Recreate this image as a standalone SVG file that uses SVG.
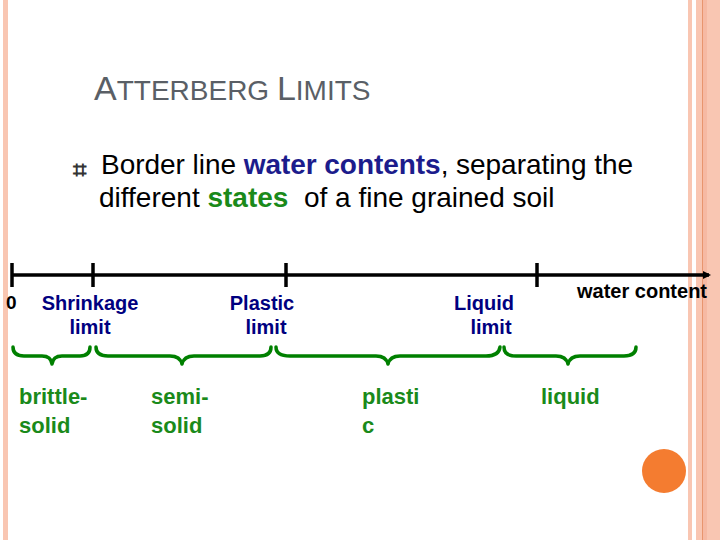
<svg xmlns="http://www.w3.org/2000/svg" width="720" height="540" viewBox="0 0 720 540">
<style>
.pb{fill:#f9c6b2}
.t{font-family:"Liberation Sans",Arial,sans-serif}
.lab{font-family:"Liberation Sans",Arial,sans-serif;font-weight:bold;font-size:20px;fill:#000080;text-anchor:middle}
.st{font-family:"Liberation Sans",Arial,sans-serif;font-weight:bold;font-size:22px;fill:#1a8a1a}
.br{fill:none;stroke:#008000;stroke-width:3.5;stroke-linecap:round;stroke-linejoin:round}
.tk{stroke:#000;stroke-width:3.5}
</style>
<rect width="720" height="540" fill="#fff"/>
<rect class="pb" x="3" y="0" width="5" height="540"/>
<rect class="pb" x="688" y="0" width="4" height="540"/>
<rect class="pb" x="696" y="0" width="24" height="540"/>
<rect x="702" y="0" width="1" height="540" fill="#e8956e"/>
<rect x="703" y="0" width="4" height="540" fill="#f6b9a3"/>
<text class="t" x="94" y="100" font-size="34" fill="#5a5f66">A<tspan font-size="28">TTERBERG </tspan>L<tspan font-size="28">IMITS</tspan></text>
<g id="bullet"><text class="t" x="73" y="178" font-size="24" font-weight="bold" fill="#333">⌗</text></g>
<text class="t" x="101" y="174" font-size="28" fill="#000" textLength="532">Border line <tspan fill="#1c1c8c" font-weight="bold">water contents</tspan>, separating the</text>
<text class="t" x="99" y="207" font-size="28" fill="#000">different <tspan fill="#1a8a1a" font-weight="bold">states</tspan>&#160; of a fine grained soil</text>
<defs><marker id="ah" markerWidth="8" markerHeight="8" refX="6" refY="4" orient="auto" markerUnits="userSpaceOnUse"><path d="M0,0 L8,4 L0,8 z" fill="#000"/></marker></defs>
<g id="connectors">
<line x1="12" y1="275" x2="709" y2="275" stroke="#000" stroke-width="3.5" marker-end="url(#ah)"/>
<line class="tk" x1="12" y1="263" x2="12" y2="287"/>
<line class="tk" x1="93" y1="263" x2="93" y2="287"/>
<line class="tk" x1="286" y1="263" x2="286" y2="287"/>
<line class="tk" x1="537" y1="263" x2="537" y2="287"/>
<path class="br" d="M13,347 Q13,356 24,356 L42,356 Q51,356 52,364 Q53,356 62,356 L80,356 Q90,356 90,347"/>
<path class="br" d="M96,347 Q96,356 108,356 L170,356 Q180,356 182,364 Q184,356 194,356 L260,356 Q271,356 271,347"/>
<path class="br" d="M276,347 Q276,356 290,356 L376,356 Q386,356 388,364 Q390,356 400,356 L486,356 Q499,356 500,347"/>
<path class="br" d="M504,347 Q504,356 516,356 L556,356 Q566,356 568,364 Q570,356 580,356 L624,356 Q636,356 636,347"/>
</g>
<g id="n0"><text class="t" x="6" y="309" font-size="19" font-weight="bold">0</text></g>
<g id="shrink"><text class="lab" x="90" y="310">Shrinkage</text><text class="lab" x="90" y="334">limit</text></g>
<g id="plastic"><text class="lab" x="262" y="310">Plastic</text><text class="lab" x="266" y="334">limit</text></g>
<g id="liquidlim"><text class="lab" x="484" y="310">Liquid</text><text class="lab" x="491" y="334">limit</text></g>
<g id="wc"><text class="t" x="577" y="298" font-size="20" font-weight="bold">water content</text></g>
<g id="brittle"><text class="st" x="19" y="404">brittle-</text><text class="st" x="19" y="433">solid</text></g>
<g id="semi"><text class="st" x="151" y="404">semi-</text><text class="st" x="151" y="433">solid</text></g>
<g id="plasti"><text class="st" x="362" y="404">plasti</text><text class="st" x="362" y="433">c</text></g>
<g id="liquid"><text class="st" x="541" y="404">liquid</text></g>
<circle cx="664" cy="471" r="22" fill="#f47c30"/>
</svg>
